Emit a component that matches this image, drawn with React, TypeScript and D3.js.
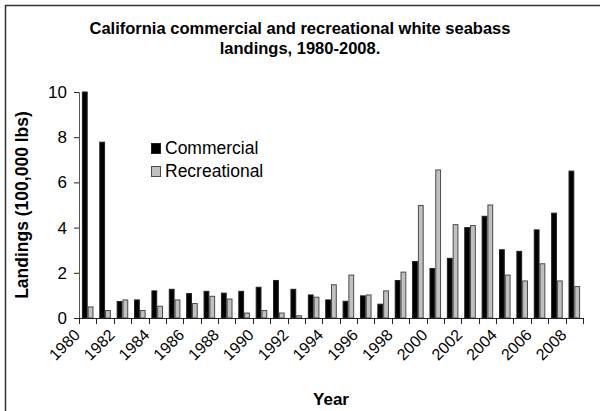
import { useEffect, useRef } from 'react';
import * as d3 from 'd3';

const years = [
  1980, 1981, 1982, 1983, 1984, 1985, 1986, 1987, 1988, 1989, 1990, 1991, 1992, 1993, 1994,
  1995, 1996, 1997, 1998, 1999, 2000, 2001, 2002, 2003, 2004, 2005, 2006, 2007, 2008,
];

// landings in 100,000 lbs
const commercial = [
  10.0, 7.78, 0.73, 0.8, 1.2, 1.27, 1.08, 1.18, 1.1, 1.18, 1.36, 1.66, 1.27, 1.02, 0.8,
  0.74, 0.98, 0.61, 1.66, 2.5, 2.19, 2.64, 4.0, 4.5, 3.02, 2.95, 3.9, 4.64, 6.5,
];

const recreational = [
  0.49, 0.33, 0.8, 0.33, 0.52, 0.8, 0.64, 0.96, 0.84, 0.22, 0.33, 0.22, 0.1, 0.92, 1.47,
  1.9, 1.02, 1.2, 2.03, 4.98, 6.55, 4.13, 4.09, 5.0, 1.9, 1.64, 2.4, 1.64, 1.39,
];

const yTicks = [0, 2, 4, 6, 8, 10];
const xLabelYears = years.filter((y) => (y - 1980) % 2 === 0);

const seriesNames = ['Commercial', 'Recreational'];

export default function App() {
  const svgRef = useRef<SVGSVGElement>(null);

  useEffect(() => {
    if (!svgRef.current) return;
    document.body.style.margin = '0';

    const width = 600;
    const height = 411;
    const margin = { top: 92, right: 17, bottom: 93, left: 79 };
    const font = 'Liberation Sans, Arial, sans-serif';

    const svg = d3.select(svgRef.current);
    svg.selectAll('*').remove();
    svg.attr('width', width).attr('height', height).style('display', 'block');

    // outer frame (right/bottom edges fall outside the picture)
    svg
      .append('rect')
      .attr('x', 5.5)
      .attr('y', 5.5)
      .attr('width', width + 10)
      .attr('height', height + 10)
      .attr('fill', '#fff')
      .attr('stroke', '#333')
      .attr('stroke-width', 1.5);

    const x = d3
      .scaleBand<number>()
      .domain(years)
      .range([margin.left, width - margin.right]);

    const y = d3
      .scaleLinear()
      .domain([0, 10])
      .range([height - margin.bottom, margin.top]);

    const inner = d3
      .scaleBand<string>()
      .domain(seriesNames)
      .range([0, x.bandwidth()])
      .paddingInner(0)
      .paddingOuter(0.5);

    const fills: Record<string, string> = { Commercial: '#000', Recreational: '#c0c0c0' };
    const strokes: Record<string, string> = { Commercial: '#222', Recreational: '#4a4a4a' };

    const rows = years.map((yr, i) => ({
      year: yr,
      values: [
        { key: 'Commercial', v: commercial[i] },
        { key: 'Recreational', v: recreational[i] },
      ],
    }));

    const groups = svg
      .selectAll('g.yr')
      .data(rows)
      .enter()
      .append('g')
      .attr('class', 'yr')
      .attr('transform', (d) => `translate(${x(d.year)},0)`);

    groups
      .selectAll('rect')
      .data((d) => d.values)
      .enter()
      .append('rect')
      .attr('x', (d) => (inner(d.key) as number) + 0.5)
      .attr('y', (d) => y(d.v))
      .attr('width', inner.bandwidth() - 1)
      .attr('height', (d) => y(0) - y(d.v))
      .attr('fill', (d) => fills[d.key])
      .attr('stroke', (d) => strokes[d.key])
      .attr('stroke-width', 1);

    // y axis
    const yAxis = svg
      .append('g')
      .attr('transform', `translate(${margin.left},0)`)
      .call(d3.axisLeft(y).tickValues(yTicks).tickSize(5).tickPadding(7));
    yAxis.select('.domain').attr('stroke', '#555');
    yAxis.selectAll('line').attr('stroke', '#222');
    yAxis.selectAll('text').attr('font-size', 17).attr('font-family', font).attr('fill', '#000');

    // x axis: ticks at band boundaries
    const xAxis = svg.append('g').attr('transform', `translate(0,${y(0)})`);
    xAxis
      .append('line')
      .attr('x1', margin.left)
      .attr('x2', width - margin.right)
      .attr('y1', 0.5)
      .attr('y2', 0.5)
      .attr('stroke', '#222');
    xAxis
      .selectAll('line.tick')
      .data(years.concat([years[years.length - 1] + 1]))
      .enter()
      .append('line')
      .attr('class', 'tick')
      .attr('x1', (d, i) => Math.round(margin.left + i * x.step()) + 0.5)
      .attr('x2', (d, i) => Math.round(margin.left + i * x.step()) + 0.5)
      .attr('y1', 0)
      .attr('y2', 6)
      .attr('stroke', '#222');

    xAxis
      .selectAll('text')
      .data(xLabelYears)
      .enter()
      .append('text')
      .attr('transform', (d) => `translate(${(x(d) as number) + 2},${18}) rotate(-45)`)
      .attr('text-anchor', 'end')
      .attr('font-size', 16)
      .attr('font-family', font)
      .text((d) => d);

    // axis titles
    svg
      .append('text')
      .attr('transform', `translate(28,${(y(0) + y(10)) / 2}) rotate(-90)`)
      .attr('text-anchor', 'middle')
      .attr('font-size', 17.5)
      .attr('font-weight', 'bold')
      .attr('font-family', font)
      .text('Landings (100,000 lbs)');

    svg
      .append('text')
      .attr('x', (margin.left + width - margin.right) / 2)
      .attr('y', 405)
      .attr('text-anchor', 'middle')
      .attr('font-size', 17)
      .attr('font-weight', 'bold')
      .attr('font-family', font)
      .text('Year');

    // title
    const title = svg
      .append('text')
      .attr('text-anchor', 'middle')
      .attr('font-size', 16.5)
      .attr('font-weight', 'bold')
      .attr('font-family', font);
    title.append('tspan').attr('x', 300).attr('y', 34).text('California commercial and recreational white seabass');
    title.append('tspan').attr('x', 300).attr('y', 54).text('landings, 1980-2008.');

    // legend
    const legend = svg
      .selectAll('g.legend')
      .data(seriesNames)
      .enter()
      .append('g')
      .attr('class', 'legend')
      .attr('transform', (d, i) => `translate(151,${143 + i * 23})`);
    legend
      .append('rect')
      .attr('x', 0.5)
      .attr('y', 0.5)
      .attr('width', 9)
      .attr('height', 10)
      .attr('fill', (d) => fills[d])
      .attr('stroke', (d) => strokes[d]);
    legend
      .append('text')
      .attr('x', 14)
      .attr('y', 11)
      .attr('font-size', 17.5)
      .attr('font-family', font)
      .text((d) => d);
  }, []);

  return <svg ref={svgRef} />;
}
